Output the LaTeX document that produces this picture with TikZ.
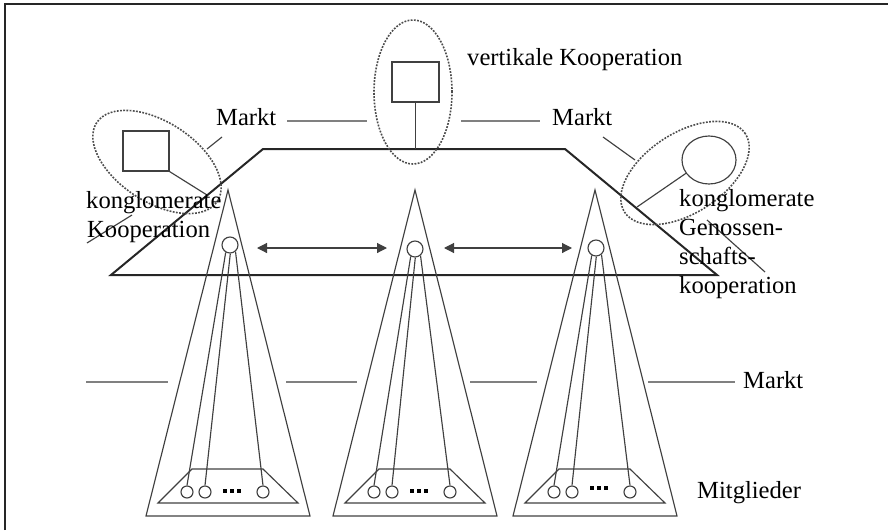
\documentclass[tikz,border=0pt]{standalone}
\usepackage{fontspec}
\setmainfont{Liberation Serif}
\usetikzlibrary{arrows.meta,shapes.geometric}
\begin{document}
\begin{tikzpicture}[x=1pt,y=-1pt,
  lbl/.style={inner sep=0pt, anchor=base west, font=\fontsize{24.6}{29}\selectfont},
  frameline/.style={line width=2.4pt, draw=black!85},
  plane/.style={line width=2pt, draw=black!85},
  conline/.style={line width=1.15pt, draw=black!75},
  marktline/.style={line width=1.3pt, draw=black!50},
  ell/.style={line width=1.6pt, draw=black!70, dash pattern=on 1.8pt off 1.4pt},
  head/.style={circle, draw=black!75, line width=1.15pt, minimum size=16pt, inner sep=0pt},
  member/.style={circle, draw=black!75, line width=1.15pt, minimum size=12pt, inner sep=0pt},
  dotsq/.style={rectangle, fill=black, minimum size=4pt, inner sep=0pt},
  boxunit/.style={rectangle, draw=black!75, line width=1.15pt, inner sep=0pt},
  dbl/.style={conline, {Triangle[length=10pt,width=10pt]}-{Triangle[length=10pt,width=10pt]}}
]
\useasboundingbox (0,0) rectangle (888,530);

% partial frame
\draw[frameline] (5,530) -- (5,4) -- (888,4);

% the market plane
\coordinate (p1) at (263,149);
\coordinate (p2) at (565,149);
\coordinate (p3) at (717,275);
\coordinate (p4) at (111,275);
\draw[plane] (p1) -- (p2) -- (p3) -- (p4) -- cycle;

% three cooperative pyramids
\foreach \c/\hx/\hy/\dy in {228/230/245/491, 415/415/249/491, 595/596/248/488}{
  \draw[conline] (\c,190) -- (\c+82,516) -- (\c-82,516) -- cycle;
  \draw[conline] (\c-36,469) -- (\c+35,469) -- (\c+70,503) -- (\c-70,503) -- cycle;
  \node[head] (h\c) at (\hx,\hy) {};
  \node[member] (ma\c) at (\c-41,492) {};
  \node[member] (mb\c) at (\c-23,492) {};
  \node[member] (mc\c) at (\c+35,492) {};
  \draw[conline] (h\c.240) -- (ma\c.north);
  \draw[conline] (h\c.272) -- (mb\c.north);
  \draw[conline] (h\c.310) -- (mc\c.north);
  \node[dotsq] (da\c) at (\c-3,\dy) {};
  \node[dotsq] (db\c) at (\c+4,\dy) {};
  \node[dotsq] (dc\c) at (\c+11,\dy) {};
}

% horizontal relations between the pyramids
\coordinate (a1) at (257,248);
\coordinate (a2) at (387,248);
\coordinate (a3) at (444,248);
\coordinate (a4) at (572,248);
\draw[dbl] (a1) -- (a2);
\draw[dbl] (a3) -- (a4);

% lower market line
\coordinate (m1) at (86,382);  \coordinate (m2) at (168,382);
\coordinate (m3) at (286,382); \coordinate (m4) at (357,382);
\coordinate (m5) at (470,382); \coordinate (m6) at (537,382);
\coordinate (m7) at (648,382); \coordinate (m8) at (735,382);
\draw[marktline] (m1) -- (m2) (m3) -- (m4) (m5) -- (m6) (m7) -- (m8);
\node[lbl] (marktlow) at (743,388) {Markt};
\node[lbl] (mitgl) at (697,498) {Mitglieder};

% vertical cooperation
\draw[ell] (413,92) ellipse [x radius=39pt, y radius=72pt];
\node[boxunit, minimum width=47pt, minimum height=40pt] (sqv) at (415.5,82) {};
\coordinate (pv) at (415.5,149);
\draw[conline] (sqv.south) -- (pv);
\node[lbl] (vert) at (467,65) {vertikale Kooperation};

% upper market lines
\coordinate (u1) at (287,121); \coordinate (u2) at (367,121);
\coordinate (u3) at (461,121); \coordinate (u4) at (540,121);
\draw[marktline] (u1) -- (u2) (u3) -- (u4);
\node[lbl] (marktl) at (216,125) {Markt};
\node[lbl] (marktr) at (552,125) {Markt};

% conglomerate cooperation (left)
\draw[ell, rotate around={-33:(157,162)}] (157,162) ellipse [x radius=72pt, y radius=40pt];
\node[boxunit, minimum width=46pt, minimum height=40pt] (sql) at (146,151) {};
\coordinate (pl) at (207,195);
\draw[conline] (sql.south east) -- (pl);
\coordinate (lm1) at (207,149); \coordinate (lm2) at (222,137);
\draw[conline] (lm1) -- (lm2);
\coordinate (ll1) at (87,243); \coordinate (ll2) at (132,215);
\draw[conline] (ll1) -- (ll2);
\node[lbl] (kl1) at (86,208) {konglomerate};
\node[lbl] (kl2) at (87,237) {Kooperation};

% conglomerate cooperative cooperation (right)
\draw[ell, rotate around={33:(685,173)}] (685,173) ellipse [x radius=72pt, y radius=40pt];
\node[ellipse, draw=black!75, line width=1.15pt, minimum width=54pt, minimum height=48pt, inner sep=0pt] (cr) at (709,160) {};
\coordinate (pr) at (637,207);
\draw[conline] (cr.210) -- (pr);
\coordinate (rm1) at (603,137); \coordinate (rm2) at (635,160);
\draw[conline] (rm1) -- (rm2);
\coordinate (rl1) at (707,220); \coordinate (rl2) at (765,272);
\draw[conline] (rl1) -- (rl2);
\node[lbl] (kr1) at (679,206) {konglomerate};
\node[lbl] (kr2) at (679,235) {Genossen-};
\node[lbl] (kr3) at (679,264) {schafts-};
\node[lbl] (kr4) at (679,293) {kooperation};
\end{tikzpicture}
\end{document}
